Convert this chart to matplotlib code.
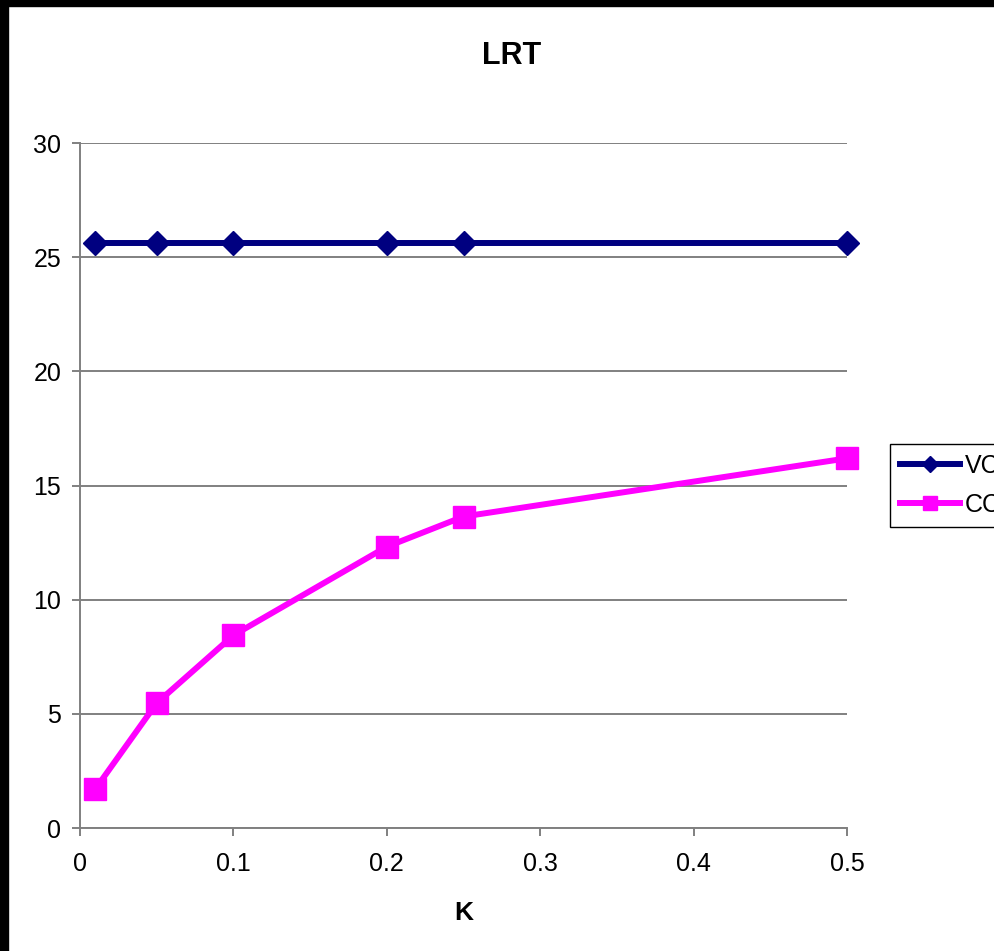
import numpy as np
import matplotlib.pyplot as plt
from matplotlib.patches import Rectangle

plt.rcParams['font.family'] = ['Liberation Sans', 'DejaVu Sans']

# K values and LRT results for the two methods
k_values = [0.01, 0.05, 0.1, 0.2, 0.25, 0.5]
vc_lrt = [25.6, 25.6, 25.6, 25.6, 25.6, 25.6]
cc_lrt = [1.71, 5.47, 8.44, 12.32, 13.64, 16.19]

x_ticks = [0, 0.1, 0.2, 0.3, 0.4, 0.5]
y_ticks = [0, 5, 10, 15, 20, 25, 30]

W, H = 995, 951
fig = plt.figure(figsize=(W / 100, H / 100), dpi=100)
fig.patch.set_facecolor('white')

# black frame along the top and left edges
fig.patches.append(Rectangle((0, 1 - 6 / H), 1, 6 / H, transform=fig.transFigure,
                             color='black', zorder=0))
fig.patches.append(Rectangle((0, 0), 8 / W, 1, transform=fig.transFigure,
                             color='black', zorder=0))

ax = fig.add_axes([80 / W, 1 - 828 / H, (847 - 80) / W, (828 - 143) / H])

ax.plot(k_values, vc_lrt, color='#000080', lw=4.3, marker='D', ms=12.5,
        label='VC', clip_on=False, zorder=3)
ax.plot(k_values, cc_lrt, color='#FF00FF', lw=4.3, marker='s', ms=16,
        label='CC', clip_on=False, zorder=3)

ax.set_xlim(0, 0.5)
ax.set_ylim(0, 30)
ax.set_xticks(x_ticks)
ax.set_xticklabels(['0', '0.1', '0.2', '0.3', '0.4', '0.5'])
ax.set_yticks(y_ticks)
ax.grid(axis='y', color='#808080', lw=1.4)
ax.set_axisbelow(True)

for side in ['top', 'right']:
    ax.spines[side].set_visible(False)
for side in ['left', 'bottom']:
    ax.spines[side].set_color('#808080')
    ax.spines[side].set_linewidth(1.4)
ax.tick_params(axis='both', direction='out', length=5.5, width=1.4,
               color='#808080', labelsize=18)
ax.tick_params(axis='y', pad=8)
ax.tick_params(axis='x', pad=12)

ax.set_xlabel('K', fontsize=19, fontweight='bold', labelpad=18)
fig.text(512 / W, 1 - 56 / H, 'LRT', fontsize=22, fontweight='bold',
         ha='center', va='center')

leg = ax.legend(loc='upper left', bbox_to_anchor=(890 / W, 1 - 444 / H),
                bbox_transform=fig.transFigure, borderaxespad=0,
                fancybox=False, edgecolor='black', framealpha=1, fontsize=18,
                handlelength=2.4, handletextpad=0.2, borderpad=0.4,
                labelspacing=0.6, markerscale=0.65)
leg.get_frame().set_linewidth(1.0)

fig.savefig('out.png', dpi=100)
